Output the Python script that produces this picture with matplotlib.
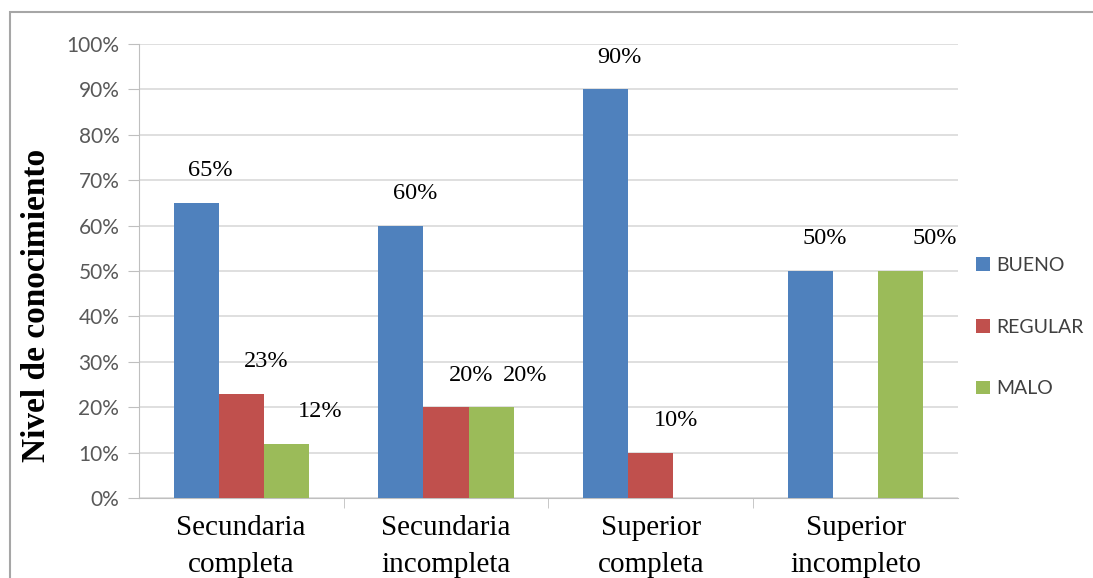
import numpy as np
import matplotlib.pyplot as plt
from matplotlib.patches import Rectangle

categories = ['Secundaria\ncompleta', 'Secundaria\nincompleta', 'Superior\ncompleta', 'Superior\nincompleto']
bueno = [65, 60, 90, 50]
regular = [23, 20, 10, 0]
malo = [12, 20, 0, 50]
series_names = ['BUENO', 'REGULAR', 'MALO']
colors = ['#4F81BD', '#C0504D', '#9BBB59']

fig = plt.figure(figsize=(10.93, 5.78), dpi=100)
ax = fig.add_axes([0.127, 0.1384, 0.7495, 0.7855])

x = np.arange(len(categories))
width = 0.22
series = [bueno, regular, malo]
label_dx = [14, 25, 34]  # labels drift right of the bars, more so for later series
handles = []
for i, vals in enumerate(series):
    pos = x + (i - 1) * width
    bars = ax.bar(pos, vals, width, color=colors[i], label=series_names[i], zorder=3)
    handles.append(bars)
    for p, v in zip(pos, vals):
        if v > 0:
            ax.annotate('%d%%' % v, (p, v), xytext=(label_dx[i], 32), textcoords='offset pixels',
                        ha='center', va='center', fontsize=17.5, family='Liberation Serif')

ax.set_xlim(-0.5, 3.5)
ax.set_ylim(0, 100)
ax.set_yticks(range(0, 101, 10))
ax.set_yticklabels(['%d%%' % t for t in range(0, 101, 10)], family='Lato', fontsize=15, color='#595959')
ax.set_xticks(x)
ax.set_xticklabels(categories, family='Liberation Serif', fontsize=21, linespacing=1.55)
ax.set_xticks([0.5, 1.5, 2.5], minor=True)
ax.tick_params(axis='x', which='major', length=0, pad=12)
ax.tick_params(axis='x', which='minor', length=7, color='#BFBFBF', direction='out')
ax.tick_params(axis='y', length=8, color='#BFBFBF', pad=6)
ax.grid(axis='y', color='#D9D9D9', linewidth=1.2, zorder=0)
for s in ['top', 'right']:
    ax.spines[s].set_visible(False)
ax.spines['left'].set_color('#BFBFBF')
ax.spines['bottom'].set_color('#BFBFBF')
ax.set_ylabel('Nivel de conocimiento', family='Liberation Serif', fontsize=24, fontweight='bold')
ax.yaxis.set_label_coords(-0.106, 0.425)

leg = fig.legend(handles=handles, labels=series_names, loc='center left', bbox_to_anchor=(0.877, 0.434),
                 frameon=False, prop={'family': 'Lato', 'size': 14}, labelspacing=2.3,
                 handlelength=0.7, handleheight=0.7, handletextpad=0.35)
for t in leg.get_texts():
    t.set_color('#404040')

fig.patches.append(Rectangle((10 / 1093, -0.05), 1.1, 1 - 12 / 578 + 0.05, transform=fig.transFigure,
                             fill=False, edgecolor='#A6A6A6', linewidth=1.5))

fig.savefig('out.png', dpi=100)
